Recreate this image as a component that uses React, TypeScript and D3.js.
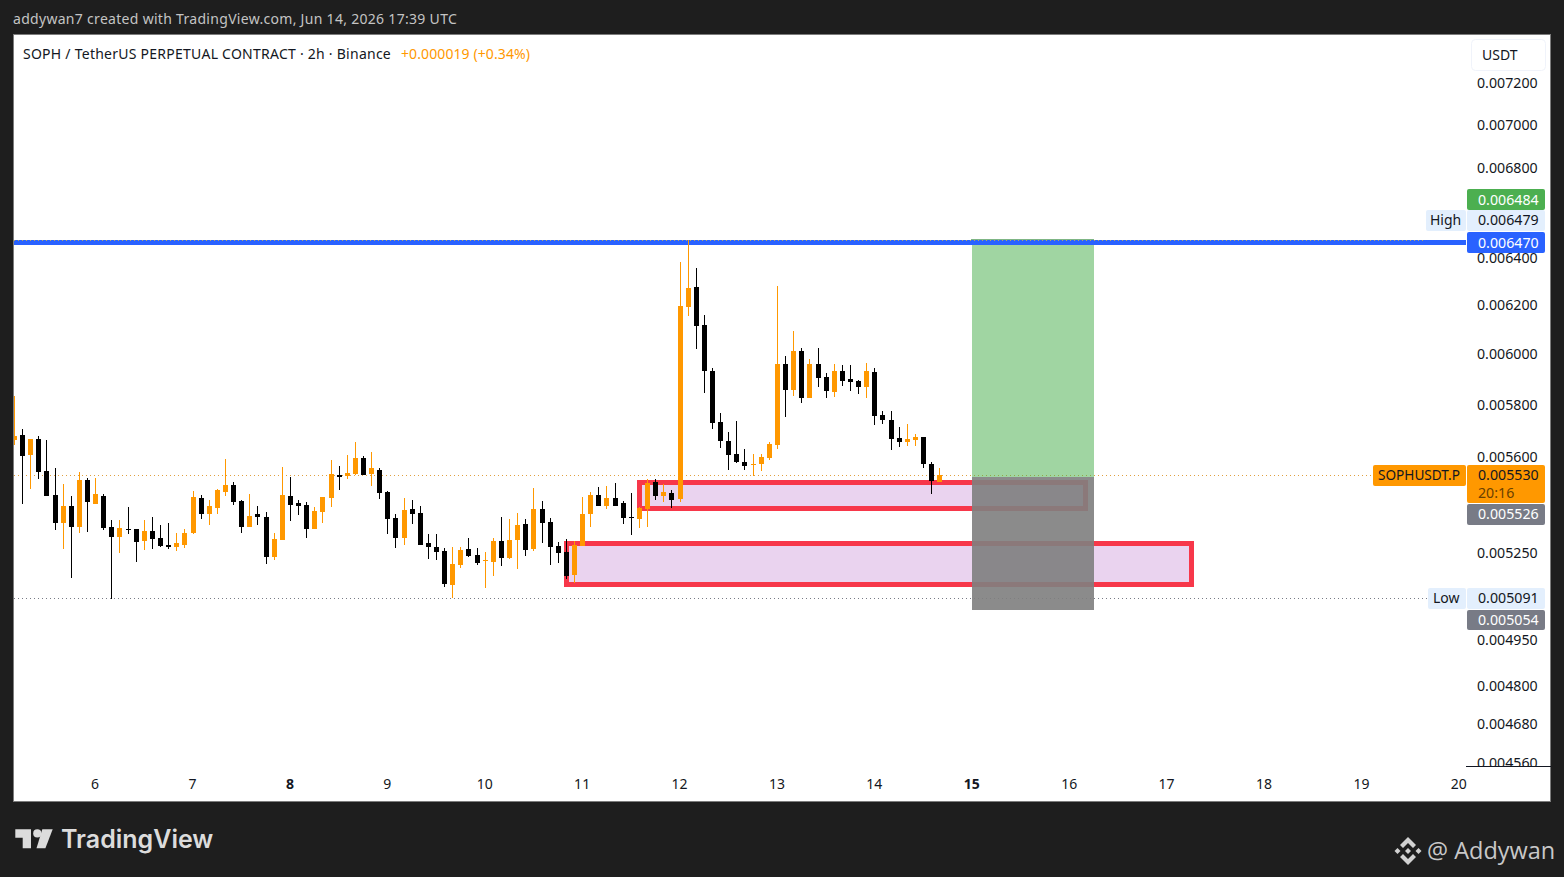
import React, { useEffect, useRef } from "react";
import * as d3 from "d3";

// prices are in millionths of a USDT, 5530 = 0.005530
const firstCandle = Date.UTC(2026, 5, 5, 4);
const candleMs = 2 * 60 * 60 * 1000;

const opens = [
  5665, 5684, 5608, 5669, 5548, 5459, 5357, 5419, 5343, 5514,
  5426, 5455, 5343, 5307, 5336, 5336, 5292, 5328, 5303, 5278,
  5271, 5278, 5321, 5448, 5390, 5411, 5470, 5496, 5437, 5343,
  5390, 5379, 5236, 5296, 5455, 5430, 5422, 5336, 5397, 5448,
  5533, 5529, 5537, 5597, 5537, 5552, 5470, 5375, 5303, 5408,
  5393, 5285, 5271, 5257, 5138, 5208, 5264, 5243, 5222, 5219,
  5292, 5233, 5296, 5353, 5264, 5408, 5361, 5275, 5254, 5173,
  5275, 5390, 5459, 5419, 5448, 5430, 5379, 5372, 5408, 5507,
  5455, 5466, 5444, 6194, 6277, 6119, 5933, 5733, 5661, 5612,
  5582, 5571, 5571, 5597, 5646, 5961, 5858, 6014, 5827, 5961,
  5910, 5850, 5933, 5902, 5894, 5870, 5929, 5760, 5741, 5672,
  5654, 5665, 5676, 5574, 5507,
];
const highs = [
  5835, 5707, 5669, 5680, 5665, 5559, 5499, 5455, 5544, 5522,
  5522, 5462, 5368, 5368, 5415, 5336, 5368, 5379, 5350, 5357,
  5321, 5336, 5473, 5459, 5441, 5481, 5593, 5507, 5441, 5462,
  5419, 5397, 5321, 5563, 5525, 5441, 5434, 5415, 5452, 5589,
  5567, 5608, 5657, 5604, 5619, 5559, 5473, 5390, 5448, 5441,
  5419, 5318, 5318, 5268, 5271, 5271, 5303, 5268, 5254, 5303,
  5379, 5372, 5393, 5372, 5485, 5437, 5375, 5289, 5300, 5292,
  5452, 5470, 5488, 5492, 5503, 5437, 5466, 5415, 5518, 5518,
  5499, 5477, 6383, 6479, 6358, 6160, 5945, 5768, 5695, 5737,
  5631, 5612, 5612, 5654, 6282, 5993, 6095, 6026, 5981, 6026,
  5925, 5961, 5957, 5957, 5898, 5965, 5945, 5776, 5776, 5714,
  5726, 5688, 5676, 5582, 5559,
];
const lows = [
  5646, 5426, 5481, 5518, 5455, 5332, 5264, 5163, 5321, 5325,
  5426, 5332, 5091, 5250, 5318, 5219, 5261, 5264, 5271, 5264,
  5257, 5268, 5318, 5372, 5350, 5390, 5455, 5422, 5321, 5343,
  5350, 5212, 5226, 5296, 5364, 5386, 5303, 5336, 5357, 5415,
  5477, 5518, 5533, 5533, 5492, 5444, 5318, 5268, 5278, 5353,
  5278, 5229, 5226, 5131, 5094, 5198, 5236, 5208, 5128, 5170,
  5205, 5229, 5194, 5240, 5257, 5285, 5208, 5215, 5159, 5145,
  5275, 5343, 5419, 5408, 5419, 5353, 5314, 5339, 5343, 5441,
  5434, 5411, 5434, 6156, 6022, 5846, 5707, 5634, 5552, 5578,
  5552, 5529, 5548, 5589, 5631, 5753, 5835, 5807, 5827, 5870,
  5827, 5831, 5874, 5854, 5842, 5827, 5722, 5726, 5627, 5638,
  5642, 5642, 5559, 5462, 5507,
];
const closes = [
  5680, 5604, 5669, 5544, 5455, 5357, 5419, 5343, 5514, 5434,
  5462, 5339, 5307, 5339, 5332, 5289, 5328, 5300, 5275, 5271,
  5285, 5321, 5452, 5390, 5419, 5477, 5496, 5434, 5343, 5382,
  5379, 5236, 5300, 5459, 5422, 5419, 5336, 5401, 5452, 5537,
  5526, 5541, 5597, 5533, 5556, 5466, 5372, 5303, 5404, 5390,
  5278, 5271, 5254, 5142, 5212, 5261, 5240, 5215, 5226, 5292,
  5233, 5296, 5350, 5261, 5408, 5357, 5271, 5250, 5170, 5278,
  5390, 5459, 5419, 5448, 5419, 5375, 5375, 5411, 5503, 5455,
  5470, 5441, 6198, 6273, 6115, 5933, 5730, 5661, 5608, 5582,
  5567, 5574, 5600, 5650, 5961, 5858, 6014, 5827, 5961, 5906,
  5854, 5933, 5894, 5890, 5870, 5933, 5757, 5741, 5669, 5654,
  5669, 5676, 5571, 5511, 5530,
];

const priceTicks = [7200, 7000, 6800, 6400, 6200, 6000, 5800, 5600, 5250, 4950, 4800, 4680, 4560];
const dayTicks = [6, 7, 8, 9, 10, 11, 12, 13, 14, 15, 16, 17, 18, 19, 20];
const boldDays = [8, 15];

const lastPrice = 5530;
const highPrice = 6479;
const lowPrice = 5091;
const targetLine = 6470;
const takeProfit = 6484;
const entryPrice = 5526;
const stopLoss = 5054;

const zoneTimes = [
  [Date.UTC(2026, 5, 11, 14), Date.UTC(2026, 5, 16, 4)],
  [Date.UTC(2026, 5, 10, 20), Date.UTC(2026, 5, 17, 6)],
];
const zonePrices = [
  [5505, 5410],
  [5284, 5140],
];
const positionTimes = [Date.UTC(2026, 5, 15), Date.UTC(2026, 5, 16, 6)];

const fmt = (p: number) => (p / 1e6).toFixed(6);
const FONT = "'Noto Sans', sans-serif";
const ORANGE = "#ff9800";
const INK = "#131722";

const App = () => {
  const ref = useRef<SVGSVGElement>(null);

  useEffect(() => {
    const svg = d3.select(ref.current);
    svg.selectAll("*").remove();

    const x = d3
      .scaleUtc()
      .domain([Date.UTC(2026, 5, 6), Date.UTC(2026, 5, 20)])
      .range([95.6, 1459.3]);
    const y = d3.scaleLog().domain([4560, 7200]).range([762.6, 82.6]);

    svg.append("rect").attr("width", 1564).attr("height", 877).attr("fill", "#1e1e1e");
    svg
      .append("rect")
      .attr("x", 13.5)
      .attr("y", 34.5)
      .attr("width", 1537)
      .attr("height", 767)
      .attr("fill", "#fff")
      .attr("stroke", "#7c7c7c");

    const defs = svg.append("defs");
    defs.append("clipPath").attr("id", "plot").append("rect").attr("x", 14).attr("y", 35).attr("width", 1452).attr("height", 731);
    defs.append("clipPath").attr("id", "scale").append("rect").attr("x", 1467).attr("y", 35).attr("width", 83).attr("height", 731);

    const plot = svg.append("g").attr("clip-path", "url(#plot)");

    // dotted price lines
    const dotted = (lineY: number, x1: number, color: string) =>
      plot
        .append("line")
        .attr("x1", 14)
        .attr("x2", x1)
        .attr("y1", lineY)
        .attr("y2", lineY)
        .attr("stroke", color)
        .attr("stroke-dasharray", "1 3");
    dotted(Math.floor(y(lastPrice)) + 0.5, 1373, "#e0a040");
    dotted(Math.floor(y(lowPrice)) + 0.5, 1428, "#787b86");

    // demand zones
    zoneTimes.forEach((t, k) => {
      const x0 = Math.floor(x(t[0])) + 0.5;
      const x1 = Math.floor(x(t[1])) + 0.5;
      const y0 = Math.floor(y(zonePrices[k][0])) + 0.5;
      const y1 = Math.floor(y(zonePrices[k][1])) + 0.5;
      plot
        .append("rect")
        .attr("x", x0)
        .attr("y", y0)
        .attr("width", x1 - x0)
        .attr("height", y1 - y0)
        .attr("fill", "#ead3ef")
        .attr("stroke", "#f7374a")
        .attr("stroke-width", 5);
    });

    // long position box
    const boxX = Math.round(x(positionTimes[0]));
    const boxW = Math.round(x(positionTimes[1])) - boxX;
    plot
      .append("rect")
      .attr("x", boxX)
      .attr("width", boxW)
      .attr("y", Math.round(y(takeProfit)))
      .attr("height", Math.round(y(entryPrice)) - Math.round(y(takeProfit)))
      .attr("fill", "rgba(76,175,80,0.53)");
    plot
      .append("rect")
      .attr("x", boxX)
      .attr("width", boxW)
      .attr("y", Math.round(y(entryPrice)))
      .attr("height", Math.ceil(y(stopLoss)) - Math.round(y(entryPrice)))
      .attr("fill", "rgba(128,128,128,0.91)");
    plot
      .append("line")
      .attr("x1", boxX - 1)
      .attr("x2", boxX + boxW)
      .attr("y1", Math.round(y(takeProfit)) + 0.5)
      .attr("y2", Math.round(y(takeProfit)) + 0.5)
      .attr("stroke", "#7fb685");

    // target line
    plot
      .append("line")
      .attr("x1", 14)
      .attr("x2", 1466)
      .attr("y1", Math.round(y(targetLine)) + 0.5)
      .attr("y2", Math.round(y(targetLine)) + 0.5)
      .attr("stroke", "#2962ff")
      .attr("stroke-width", 5);
    dotted(Math.round(y(highPrice)) + 0.5, 1426, "#b8a860");

    // candles
    const candles = plot
      .selectAll("g.candle")
      .data(opens.map((_, i) => i))
      .enter()
      .append("g")
      .attr("class", "candle")
      .attr("shape-rendering", "crispEdges")
      .attr("fill", (i) => (closes[i] >= opens[i] ? ORANGE : "#000"));
    const bodyLeft = (i: number) => Math.round(x(firstCandle + i * candleMs) - 2.5);
    candles
      .append("rect")
      .attr("x", (i) => bodyLeft(i) + 2)
      .attr("width", 1)
      .attr("y", (i) => Math.round(y(highs[i])))
      .attr("height", (i) => Math.round(y(lows[i])) - Math.round(y(highs[i])));
    candles
      .append("rect")
      .attr("x", bodyLeft)
      .attr("width", 5)
      .attr("y", (i) => Math.round(y(Math.max(opens[i], closes[i]))))
      .attr("height", (i) =>
        Math.max(1, Math.round(y(Math.min(opens[i], closes[i]))) - Math.round(y(Math.max(opens[i], closes[i]))))
      );

    // price axis
    svg
      .append("g")
      .attr("clip-path", "url(#scale)")
      .append("g")
      .attr("transform", "translate(1477,0)")
      .call(
        d3
          .axisRight(y)
          .tickValues(priceTicks)
          .tickFormat((d) => fmt(+d))
          .tickSize(0)
          .tickPadding(0)
      )
      .call((g) => g.select(".domain").remove())
      .selectAll("text")
      .attr("font-family", FONT)
      .attr("font-size", 14.2)
      .attr("fill", INK);
    svg.append("line").attr("x1", 1466).attr("x2", 1551).attr("y1", 766.5).attr("y2", 766.5).attr("stroke", INK);

    // time axis
    svg
      .append("g")
      .attr("transform", "translate(-1,779)")
      .call(
        d3
          .axisBottom(x)
          .tickValues(dayTicks.map((d) => new Date(Date.UTC(2026, 5, d))))
          .tickFormat((d) => d3.utcFormat("%-d")(d as Date))
          .tickSize(0)
          .tickPadding(0)
      )
      .call((g) => g.select(".domain").remove())
      .selectAll("text")
      .attr("font-family", FONT)
      .attr("font-size", 14)
      .attr("fill", INK)
      .attr("font-weight", (d) => (boldDays.includes((d as Date).getUTCDate()) ? 700 : 400));

    const label = (tx: number, ty: number, txt: string, color: string, size = 14.2, spacing = 0) =>
      svg
        .append("text")
        .attr("x", tx)
        .attr("y", ty)
        .attr("dy", "0.35em")
        .attr("font-family", FONT)
        .attr("font-size", size)
        .attr("letter-spacing", spacing)
        .attr("fill", color)
        .text(txt);

    // price tags
    const tag = (x0: number, w: number, y0: number, h: number, fill: string) =>
      svg.append("rect").attr("x", x0).attr("y", y0).attr("width", w).attr("height", h).attr("rx", 2).attr("fill", fill);

    tag(1467, 78, 189, 21, "#4caf50");
    label(1478, 200, fmt(takeProfit), "#fff");
    tag(1426, 40, 210, 21, "#e3effd");
    label(1430, 220.5, "High", INK, 14);
    tag(1467, 78, 210, 21, "#e3effd");
    label(1478, 220.5, fmt(highPrice), INK);
    tag(1467, 78, 232, 21, "#2962ff");
    label(1478, 243, fmt(targetLine), "#fff");
    tag(1373, 93, 465, 21, ORANGE);
    label(1378, 475.5, "SOPHUSDT.P", INK, 13.6);
    tag(1467, 78, 465, 38, ORANGE);
    label(1478, 475.5, fmt(lastPrice), INK);
    label(1478, 493.5, "20:16", "#6b4000");
    tag(1467, 78, 504, 21, "#787b86");
    label(1478, 514.5, fmt(entryPrice), "#fff");
    tag(1428, 38, 588, 21, "#e3effd");
    label(1433, 598.5, "Low", INK, 14);
    tag(1467, 78, 588, 21, "#e3effd");
    label(1478, 598.5, fmt(lowPrice), INK);
    tag(1467, 78, 610, 20, "#787b86");
    label(1478, 620, fmt(stopLoss), "#fff");

    // currency button
    svg.append("rect").attr("x", 1471.5).attr("y", 39.5).attr("width", 74).attr("height", 31).attr("rx", 4).attr("fill", "#fff").attr("stroke", "#f0f3fa");
    label(1482, 55, "USDT", INK, 14);

    // headers
    label(13, 19, "addywan7 created with TradingView.com, Jun 14, 2026 17:39 UTC", "#c4c4c4", 14, 0.3);
    label(23, 54, "SOPH / TetherUS PERPETUAL CONTRACT · 2h · Binance", INK, 14, 0.25);
    label(401, 54, "+0.000019 (+0.34%)", ORANGE, 14, 0.1);

    // TradingView logo
    const logo = svg.append("g").attr("fill", "#dcdcdc");
    logo.append("path").attr("d", "M15.3 829.3H31V848.3H22.7V837.7H15.3Z");
    logo.append("circle").attr("cx", 37.3).attr("cy", 833.4).attr("r", 4.1);
    logo.append("path").attr("d", "M42.3 829.3H52.7L45.4 848.3H36.5Z");
    svg.append("text").attr("x", 61).attr("y", 839).attr("dy", "0.35em").attr("font-family", "Inter, sans-serif").attr("font-weight", 600).attr("font-size", 25).attr("fill", "#dcdcdc").text("TradingView");

    // watermark
    const mark = svg.append("g").attr("fill", "#d2d2d2").attr("transform", "translate(1408,851)");
    mark.append("path").attr("d", "M0 -14L8 -6L5 -3L0 -8L-5 -3L-8 -6Z");
    mark.append("path").attr("d", "M0 14L8 6L5 3L0 8L-5 3L-8 6Z");
    mark.append("path").attr("d", "M0 -3L3 0L0 3L-3 0Z");
    mark.append("path").attr("d", "M-10.5 -3L-7.5 0L-10.5 3L-13.5 0Z");
    mark.append("path").attr("d", "M10.5 -3L13.5 0L10.5 3L7.5 0Z");
    svg.append("text").attr("x", 1427).attr("y", 851).attr("dy", "0.35em").attr("font-family", "'Open Sans', sans-serif").attr("font-size", 23.5).attr("fill", "#c8c8c8").text("@ Addywan");
  }, []);

  return <svg ref={ref} width={1564} height={877} style={{ position: "absolute", left: 0, top: 0, display: "block" }} />;
};

export default App;
